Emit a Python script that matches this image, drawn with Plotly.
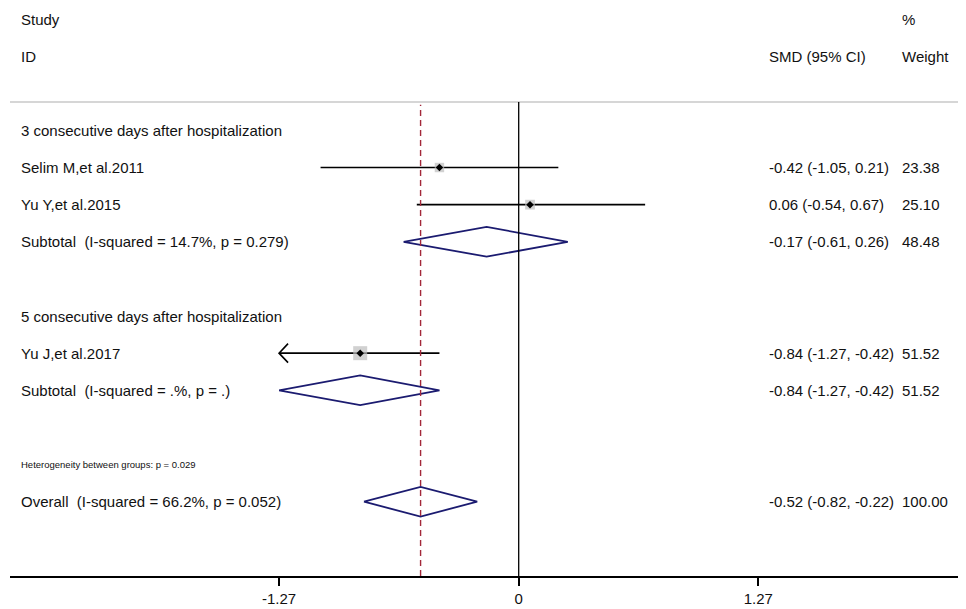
import plotly.graph_objects as go
import numpy as np

# ---- data ----
groups = ["3 consecutive days after hospitalization", "5 consecutive days after hospitalization"]
studies = ["Selim M,et al.2011", "Yu Y,et al.2015", "Yu J,et al.2017"]
smd = [-0.42, 0.06, -0.84]
ci_lo = [-1.05, -0.54, -1.27]
ci_hi = [0.21, 0.67, -0.42]
weights = [23.38, 25.10, 51.52]

sub_labels = ["Subtotal  (I-squared = 14.7%, p = 0.279)", "Subtotal  (I-squared = .%, p = .)"]
sub_smd = [-0.17, -0.84]
sub_lo = [-0.61, -1.27]
sub_hi = [0.26, -0.42]
sub_w = [48.48, 51.52]

overall_label = "Overall  (I-squared = 66.2%, p = 0.052)"
overall_smd = -0.52
overall_lo = -0.82
overall_hi = -0.22
overall_w = 100.00

het_text = "Heterogeneity between groups: p = 0.029"
tick_vals = [-1.27, 0, 1.27]
tick_text = ["-1.27", "0", "1.27"]

# ---- layout helpers (page body has an 8px margin) ----
OFF = 8
W, H = 966 - OFF, 609 - OFF
ML = 10 - OFF
AXIS_PX = 576 - OFF
MB = H - AXIS_PX
X0_PX, SCALE = 518.7 - OFF, 188.7       # figure pixel of x=0, px per unit
ROW0_PX, ROW_H = 19.0 - OFF, 37.13      # figure pixel of row 0, row height
def px2x(px):
    return (px - OFF - X0_PX) / SCALE   # px given in reference-page pixels
xr = [(ML - X0_PX) / SCALE, (W - X0_PX) / SCALE]
yr = [(AXIS_PX - ROW0_PX) / ROW_H, (0 - ROW0_PX) / ROW_H]

TXT = "#111111"
FONT = "Liberation Sans, Arial, sans-serif"
FS = 15
LEFT_X = px2x(19)
SMD_X = px2x(767)
WT_X = px2x(900)
DIAM_H = 0.40
NAVY = "#1b1b70"

study_rows = [4, 5, 9]
sub_rows = [6, 10]
group_rows = [3, 8]
het_row = 12
overall_row = 13

fig = go.Figure()

for i in range(len(studies)):
    fig.add_trace(go.Scatter(x=[ci_lo[i], ci_hi[i]], y=[study_rows[i]] * 2, mode="lines",
                             line=dict(color="black", width=1.6), hoverinfo="skip", showlegend=False))
    # open arrowhead where the CI reaches the axis minimum
    if ci_lo[i] <= min(tick_vals):
        ax_len = 9.0 / SCALE
        ay_len = 9.5 / ROW_H
        fig.add_trace(go.Scatter(x=[ci_lo[i] + ax_len, ci_lo[i], ci_lo[i] + ax_len],
                                 y=[study_rows[i] - ay_len, study_rows[i], study_rows[i] + ay_len],
                                 mode="lines", line=dict(color="black", width=1.6),
                                 hoverinfo="skip", showlegend=False))

fig.add_trace(go.Scatter(x=smd, y=study_rows, mode="markers",
                         marker=dict(symbol="square", color="#bdbdbd",
                                     size=[1.95 * np.sqrt(w) for w in weights], line=dict(width=0)),
                         hoverinfo="skip", showlegend=False))
fig.add_trace(go.Scatter(x=smd, y=study_rows, mode="markers",
                         marker=dict(symbol="diamond", color="black", size=5.8, line=dict(width=0)),
                         hoverinfo="skip", showlegend=False))

def diamond(lo, est, hi, row):
    fig.add_trace(go.Scatter(x=[lo, est, hi, est, lo], y=[row, row - DIAM_H, row, row + DIAM_H, row],
                             mode="lines", line=dict(color=NAVY, width=1.8),
                             hoverinfo="skip", showlegend=False))
for k in range(len(sub_smd)):
    diamond(sub_lo[k], sub_smd[k], sub_hi[k], sub_rows[k])
diamond(overall_lo, overall_smd, overall_hi, overall_row)

annots = []
def txt(x, row, s, size=FS):
    annots.append(dict(x=x, y=row, xref="x", yref="y", text=s, showarrow=False,
                       xanchor="left", yanchor="middle",
                       font=dict(family=FONT, size=size, color=TXT)))

txt(LEFT_X, 0, "Study")
txt(LEFT_X, 1, "ID")
txt(WT_X, 0, "%")
txt(SMD_X, 1, "SMD (95% CI)")
txt(WT_X, 1, "Weight")

for g in range(len(groups)):
    txt(LEFT_X, group_rows[g], groups[g])
for i in range(len(studies)):
    txt(LEFT_X, study_rows[i], studies[i])
    txt(SMD_X, study_rows[i], f"{smd[i]:.2f} ({ci_lo[i]:.2f}, {ci_hi[i]:.2f})")
    txt(WT_X, study_rows[i], f"{weights[i]:.2f}")
for k in range(len(sub_labels)):
    txt(LEFT_X, sub_rows[k], sub_labels[k])
    txt(SMD_X, sub_rows[k], f"{sub_smd[k]:.2f} ({sub_lo[k]:.2f}, {sub_hi[k]:.2f})")
    txt(WT_X, sub_rows[k], f"{sub_w[k]:.2f}")
txt(LEFT_X, het_row, het_text, size=9.5)
txt(LEFT_X, overall_row, overall_label)
txt(SMD_X, overall_row, f"{overall_smd:.2f} ({overall_lo:.2f}, {overall_hi:.2f})")
txt(WT_X, overall_row, f"{overall_w:.2f}")

top_line_y = 1 - (102 - OFF) / AXIS_PX
shapes = [
    dict(type="line", xref="paper", yref="paper", x0=0, x1=1, y0=top_line_y, y1=top_line_y,
         line=dict(color="#c8c8c8", width=1.5)),
    dict(type="line", xref="x", yref="paper", x0=0, x1=0, y0=0, y1=top_line_y,
         line=dict(color="black", width=1.3)),
    dict(type="line", xref="x", yref="paper", x0=overall_smd, x1=overall_smd, y0=0, y1=top_line_y - 0.005,
         line=dict(color="#a3283a", width=1.4, dash="6px,4px")),
]

fig.update_layout(
    width=W, height=H,
    margin=dict(l=ML, r=0, t=0, b=MB),
    paper_bgcolor="white", plot_bgcolor="white",
    xaxis=dict(range=xr, showgrid=False, zeroline=False, showline=True, linecolor="black", linewidth=1.5,
               ticks="outside", ticklen=8, tickwidth=1.5, tickcolor="black",
               tickvals=tick_vals, ticktext=tick_text,
               tickfont=dict(family=FONT, size=15, color=TXT), fixedrange=True),
    yaxis=dict(range=yr, showgrid=False, zeroline=False, showline=False, showticklabels=False,
               ticks="", fixedrange=True),
    annotations=annots, shapes=shapes,
)

fig.write_html("out.html")
